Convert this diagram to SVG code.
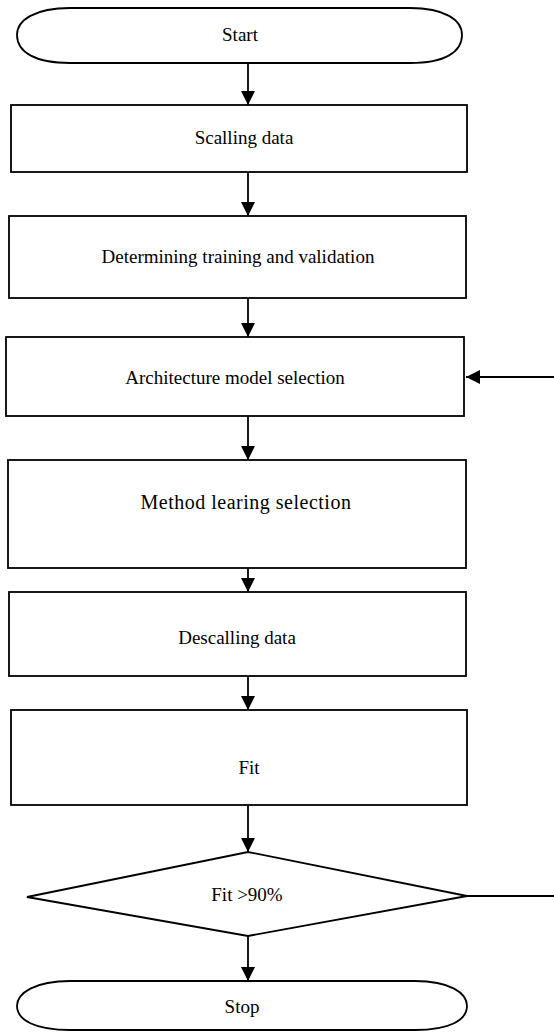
<svg xmlns="http://www.w3.org/2000/svg" width="554" height="1032" viewBox="0 0 554 1032">
<defs>
<marker id="ah" markerUnits="userSpaceOnUse" markerWidth="14" markerHeight="14" viewBox="0 0 14 14" refX="14" refY="7" orient="auto">
<path d="M0,0 L14,7 L0,14 Z" fill="#000"/>
</marker>
<style>
.n{fill:#fff;stroke:#000;stroke-width:1.8}
.t{font-family:"Liberation Serif","Times New Roman",serif;font-size:19px;fill:#000;text-anchor:middle}
.c line{stroke:#000;stroke-width:1.8}
.a{marker-end:url(#ah)}
</style>
</defs>
<rect width="554" height="1032" fill="#fff"/>
<g id="start">
<path class="n" d="M70,8 L410,8 C445,8 462,20 462,35 C462,52 445,63 410,63 L70,63 C35,63 17,52 17,35 C17,20 35,8 70,8 Z"/>
<text class="t" x="240" y="41">Start</text>
</g>
<g id="scaling">
<rect class="n" x="11" y="105" width="456" height="67"/>
<text class="t" x="244" y="144">Scalling data</text>
</g>
<g id="determining">
<rect class="n" x="9" y="216" width="457" height="82"/>
<text class="t" x="238" y="263">Determining training and validation</text>
</g>
<g id="architecture">
<rect class="n" x="6" y="337" width="458" height="79"/>
<text class="t" x="235" y="384">Architecture model selection</text>
</g>
<g id="method">
<rect class="n" x="8" y="460" width="458" height="108"/>
<text class="t" x="246" y="509" style="font-size:20px;letter-spacing:0.5px">Method learing selection</text>
</g>
<g id="descaling">
<rect class="n" x="9" y="592" width="457" height="84"/>
<text class="t" x="237" y="644">Descalling data</text>
</g>
<g id="fit">
<rect class="n" x="11" y="710" width="456" height="95"/>
<text class="t" x="249" y="774">Fit</text>
</g>
<g id="decision">
<path class="n" d="M248,852 L467,896 L248,936 L27,897 Z"/>
<text class="t" x="247" y="901">Fit &gt;90%</text>
</g>
<g id="stop">
<path class="n" d="M70,981 L415,981 C450,981 467,993 467,1006 C467,1020 450,1030 415,1030 L70,1030 C35,1030 17,1020 17,1006 C17,993 35,981 70,981 Z"/>
<text class="t" x="242" y="1013">Stop</text>
</g>
<g id="connectors" class="c">
<line class="a" x1="248" y1="63" x2="248" y2="105"/>
<line class="a" x1="248" y1="172" x2="248" y2="216"/>
<line class="a" x1="248" y1="298" x2="248" y2="337"/>
<line class="a" x1="248" y1="416" x2="248" y2="460"/>
<line class="a" x1="248" y1="568" x2="248" y2="592"/>
<line class="a" x1="248" y1="676" x2="248" y2="710"/>
<line class="a" x1="248" y1="805" x2="248" y2="852"/>
<line class="a" x1="248" y1="936" x2="248" y2="981"/>
<line class="a" x1="554" y1="377" x2="466" y2="377"/>
<line x1="467" y1="896" x2="554" y2="896"/>
</g>
</svg>
